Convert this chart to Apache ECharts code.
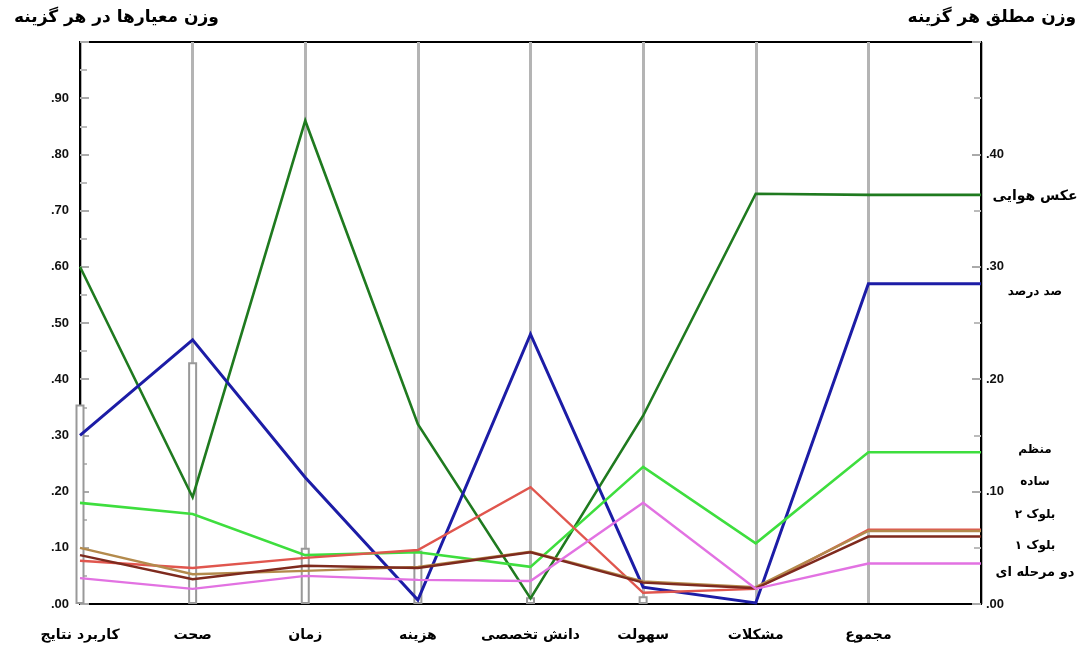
<!DOCTYPE html>
<html>
<head>
<meta charset="utf-8">
<script src="https://cdn.jsdelivr.net/npm/echarts@6/dist/echarts.min.js"></script>
<style>
html,body{margin:0;padding:0;background:#fff;}
#main{width:1087px;height:651px;}
</style>
</head>
<body>
<div id="main"></div>
<script>
// ---- DATA ----
const categories = ['کاربرد نتایج','صحت','زمان','هزینه','دانش تخصصی','سهولت','مشکلات','مجموع',''];
const criterionWeights = [0.355, 0.43, 0.10, 0.095, 0.012, 0.014, '-', '-', '-'];
const optionNames = ['عکس هوایی','صد درصد','منظم','ساده','بلوک ۲','بلوک ۱','دو مرحله ای'];
const aerial   = [0.60, 0.19, 0.86, 0.32, 0.01, 0.335, 0.73, 0.364, 0.364];
const census   = [0.30, 0.47, 0.225, 0.007, 0.48, 0.03, 0.002, 0.285, 0.285];
const systematic = [0.18, 0.16, 0.087, 0.092, 0.066, 0.244, 0.108, 0.135, 0.135];
const simple   = [0.077, 0.064, 0.082, 0.096, 0.208, 0.02, 0.027, 0.066, 0.066];
const block2   = [0.10, 0.053, 0.059, 0.066, 0.093, 0.04, 0.03, 0.065, 0.065];
const block1   = [0.087, 0.044, 0.068, 0.064, 0.092, 0.038, 0.028, 0.060, 0.060];
const twoStage = [0.046, 0.027, 0.05, 0.043, 0.041, 0.18, 0.027, 0.036, 0.036];
const optionValues = [aerial, census, systematic, simple, block2, block1, twoStage];
const leftTitle = 'وزن معیارها در هر گزینه';
const rightTitle = 'وزن مطلق هر گزینه';

// ---- STYLE / LAYOUT ----
const colors = ['#1f7a1f', '#1c1ca6', '#3ede3e', '#e0564e', '#b38a4c', '#7e2a1e', '#e272e2'];
const widths = [2.6, 3, 2.6, 2.4, 2.4, 2.4, 2.4];
const labelY = [196, 292, 450, 482, 515, 546, 573];
const labelSize = [14, 12, 12, 12, 12, 12, 13];
const G = {left: 80, right: 106, top: 42, bottom: 47};
const fa = '"DejaVu Sans", sans-serif';
const num = '"Liberation Sans", Arial, sans-serif';

const fmt = v => (v >= 0.999) ? '' : '.' + String(Math.round(v * 100)).padStart(2, '0');
const fmtR = v => (v >= 0.499) ? '' : '.' + String(Math.round(v * 100)).padStart(2, '0');

const chart = echarts.init(document.getElementById('main'));

const hiddenAxis = {
  axisLine: {show: false, lineStyle: {opacity: 0}},
  axisTick: {show: false, lineStyle: {opacity: 0}},
  axisLabel: {show: false, color: 'rgba(0,0,0,0)'},
  splitLine: {show: false},
  nameTextStyle: {color: 'rgba(0,0,0,0)'}
};

const parallelAxes = categories.map((c, i) => Object.assign({
  dim: i,
  name: '',
  min: 0,
  max: i >= 7 ? 0.5 : 1
}, JSON.parse(JSON.stringify(hiddenAxis))));

const lineData = optionValues.map((vals, k) => ({
  value: vals,
  lineStyle: {color: colors[k], width: widths[k], opacity: 1}
}));

const option = {
  backgroundColor: '#fff',
  animation: false,
  title: [
    {text: leftTitle, left: 9, top: 4, textStyle: {fontFamily: fa, fontWeight: 'bold', fontSize: 17, color: '#000'}},
    {text: rightTitle, right: 6, top: 4, textStyle: {fontFamily: fa, fontWeight: 'bold', fontSize: 17, color: '#000'}}
  ],
  grid: {left: G.left, right: G.right, top: G.top, bottom: G.bottom, show: true, borderColor: '#000', borderWidth: 2, backgroundColor: 'transparent'},
  xAxis: {
    type: 'category',
    data: categories,
    boundaryGap: false,
    axisLine: {lineStyle: {color: '#000', width: 2}},
    axisTick: {show: false},
    axisLabel: {interval: 0, margin: 24, fontFamily: fa, fontWeight: 'bold', fontSize: 14, color: '#000'},
    splitLine: {show: true, interval: 0, lineStyle: {color: '#b4b4b4', width: 3}}
  },
  yAxis: [
    {
      type: 'value', position: 'left', min: 0, max: 1, interval: 0.1,
      axisLine: {show: true, lineStyle: {color: '#000', width: 2}},
      axisTick: {show: true, inside: true, length: 9, lineStyle: {color: '#aaa', width: 2}},
      minorTick: {show: true, splitNumber: 2, length: 7, lineStyle: {color: '#bbb', width: 2}},
      axisLabel: {formatter: fmt, margin: 11, fontFamily: num, fontWeight: 'bold', fontSize: 13, color: '#111'},
      splitLine: {show: false}
    },
    {
      type: 'value', position: 'right', min: 0, max: 0.5, interval: 0.1,
      axisLine: {show: true, lineStyle: {color: '#000', width: 2}},
      axisTick: {show: true, inside: true, length: 9, lineStyle: {color: '#aaa', width: 2}},
      minorTick: {show: true, splitNumber: 2, length: 7, lineStyle: {color: '#bbb', width: 2}},
      axisLabel: {formatter: fmtR, margin: 5, fontFamily: num, fontWeight: 'bold', fontSize: 13, color: '#111'},
      splitLine: {show: false}
    }
  ],
  parallel: {
    left: G.left, right: G.right, top: G.top, bottom: G.bottom,
    layout: 'horizontal',
    parallelAxisDefault: JSON.parse(JSON.stringify(hiddenAxis))
  },
  parallelAxis: parallelAxes,
  series: [
    {
      type: 'bar',
      xAxisIndex: 0, yAxisIndex: 0,
      data: criterionWeights,
      barWidth: 9,
      itemStyle: {color: '#fff', borderColor: '#999', borderWidth: 2},
      silent: true,
      z: 1
    },
    {
      type: 'parallel',
      smooth: false,
      lineStyle: {width: 2.5, opacity: 1},
      inactiveOpacity: 1,
      activeOpacity: 1,
      data: lineData,
      z: 3
    }
  ],
  graphic: optionNames.map((n, k) => ({
    type: 'text',
    x: 1035,
    y: labelY[k],
    style: {text: n, textAlign: 'center', textVerticalAlign: 'middle',
      font: 'bold ' + labelSize[k] + 'px ' + fa, fill: '#000'}
  }))
};

chart.setOption(option);
</script>
</body>
</html>
